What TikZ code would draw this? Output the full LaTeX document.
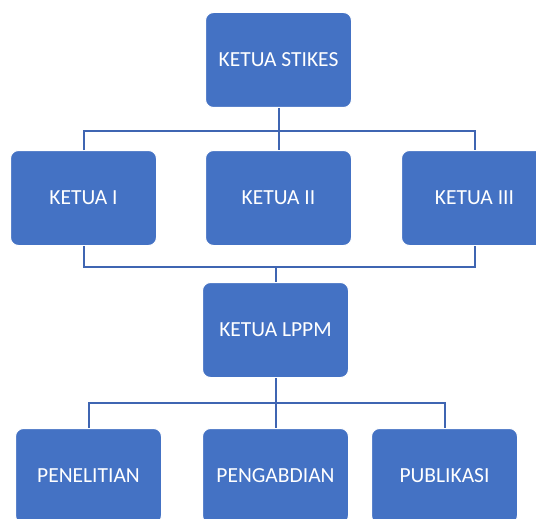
\documentclass[tikz,border=0pt]{standalone}
\usepackage{fontspec}
\setmainfont{Carlito}
\usetikzlibrary{positioning}
\definecolor{boxblue}{HTML}{4472C4}
\definecolor{lineblue}{HTML}{3F65B2}

\begin{document}
\begin{tikzpicture}[
    unit/.style={rectangle, rounded corners=8pt, draw=white, line width=1pt, fill=boxblue,
        text=white, minimum width=146pt, minimum height=95pt, align=center,
        font=\fontsize{21.5}{25}\selectfont},
    link/.style={draw=lineblue, line width=2pt}
]
\useasboundingbox (0,0) rectangle (536pt,-519pt);
\clip (0,0) rectangle (536pt,-519pt);

% Pimpinan
\node[unit] (Stikes) at (278.5pt,-60pt) {KETUA STIKES};
\node[unit, below=42pt of Stikes] (KetuaII) {KETUA II};
\node[unit, left=48pt of KetuaII] (KetuaI) {KETUA I};
\node[unit, right=49pt of KetuaII] (KetuaIII) {KETUA III};

% Lembaga
\node[unit, below=36pt of KetuaII, xshift=-3pt] (Lppm) {KETUA LPPM};
\node[unit, below=50pt of Lppm] (Pengabdian) {PENGABDIAN};
\node[unit, left=40pt of Pengabdian] (Penelitian) {PENELITIAN};
\node[unit, right=22pt of Pengabdian] (Publikasi) {PUBLIKASI};

% Titik cabang
\coordinate[below=23pt of Stikes.south] (JoinTop);
\coordinate[above=15pt of Lppm.north] (JoinMid);
\coordinate[below=25pt of Lppm.south] (JoinLow);

% Garis
\draw[link] (Stikes.south) -- (KetuaII.north);
\draw[link] (KetuaI.north) |- (JoinTop) -| (KetuaIII.north);
\draw[link] (KetuaI.south) |- (JoinMid) -| (KetuaIII.south);
\draw[link] (JoinMid) -- (Lppm.north);
\draw[link] (Lppm.south) -- (Pengabdian.north);
\draw[link] (Penelitian.north) |- (JoinLow) -| (Publikasi.north);

\end{tikzpicture}
\end{document}
